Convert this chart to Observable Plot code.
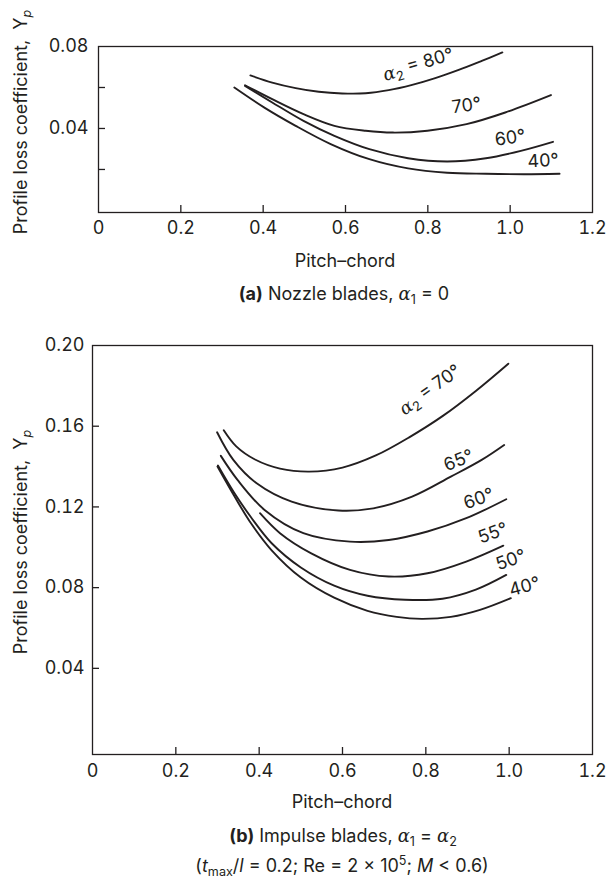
<!DOCTYPE html>
<html>
<head>
<meta charset="utf-8">
<script src="https://cdn.jsdelivr.net/npm/d3@7"></script>
<script src="https://cdn.jsdelivr.net/npm/@observablehq/plot@0.6"></script>
<style>
  body { margin: 0; background: #fff; }
  #wrap { width: 609px; height: 882px; background: #fff; }
  #wrap svg { display: block; }
</style>
</head>
<body>
<div id="wrap"></div>
<script>
// ---------- shared axis values ----------
const pitchTickLabels = [0, 0.2, 0.4, 0.6, 0.8, 1.0, 1.2];
const pitchInnerTicks = [0.2, 0.4, 0.6, 0.8, 1.0];

// ---------- (a) Nozzle blades ----------
const nozzleYLabels = [0.04, 0.08];
const nozzleYTicks = [0.02, 0.04, 0.06];
const nozzleSeries = ["80°", "70°", "60°", "40°"];
const nozzle80 = [[0.369,0.0659],[0.422,0.0624],[0.479,0.0597],[0.535,0.0579],[0.592,0.0571],[0.649,0.0572],[0.705,0.0587],[0.762,0.0613],[0.818,0.0646],[0.875,0.0686],[0.931,0.0730],[0.981,0.0771]];
const nozzle70 = [[0.356,0.0611],[0.422,0.0543],[0.498,0.0470],[0.573,0.0413],[0.649,0.0389],[0.715,0.0380],[0.799,0.0389],[0.894,0.0421],[0.988,0.0478],[1.099,0.0563]];
const nozzle60 = [[0.356,0.0608],[0.422,0.0527],[0.498,0.0437],[0.573,0.0364],[0.658,0.0299],[0.752,0.0255],[0.847,0.0239],[0.941,0.0255],[1.026,0.0291],[1.104,0.0335]];
const nozzle40 = [[0.330,0.0600],[0.403,0.0502],[0.479,0.0413],[0.564,0.0324],[0.658,0.0250],[0.752,0.0205],[0.847,0.0184],[0.941,0.0179],[1.035,0.0177],[1.120,0.0179]];
const nozzleLabelText = ["α2 = 80°", "70°", "60°", "40°"];
const nozzleLabelX = [0.777, 0.894, 1.0, 1.08];
const nozzleLabelY = [0.0708, 0.0512, 0.0354, 0.0242];
const nozzleLabelAngle = [-16, -8, -8, -3];

// ---------- (b) Impulse blades ----------
const impulseYLabels = [0.04, 0.08, 0.12, 0.16, 0.20];
const impulseYTicks = [0.04, 0.08, 0.12, 0.16];
const impulseSeries = ["70°", "65°", "60°", "55°", "50°", "40°"];
const impulse70 = [[0.315,0.158],[0.345,0.150],[0.39,0.1435],[0.45,0.1390],[0.52,0.1375],[0.60,0.1395],[0.68,0.1455],[0.76,0.1545],[0.84,0.1650],[0.92,0.1775],[0.998,0.191]];
const impulse65 = [[0.299,0.157],[0.338,0.1433],[0.394,0.1317],[0.478,0.1226],[0.59,0.1182],[0.674,0.1193],[0.767,0.1251],[0.86,0.135],[0.934,0.1433],[0.988,0.1507]];
const impulse60 = [[0.308,0.1453],[0.348,0.1334],[0.413,0.1185],[0.506,0.107],[0.618,0.1028],[0.711,0.1036],[0.804,0.1078],[0.897,0.1144],[0.993,0.1238]];
const impulse55 = [[0.402,0.1169],[0.45,0.107],[0.525,0.097],[0.618,0.0888],[0.711,0.0855],[0.804,0.0871],[0.897,0.0929],[0.986,0.1008]];
const impulse50 = [[0.301,0.1405],[0.34,0.127],[0.38,0.115],[0.43,0.102],[0.5,0.090],[0.58,0.081],[0.66,0.076],[0.75,0.074],[0.84,0.0745],[0.92,0.079],[0.993,0.0863]];
const impulse40 = [[0.300,0.140],[0.34,0.1255],[0.38,0.112],[0.43,0.0985],[0.5,0.085],[0.58,0.075],[0.66,0.0685],[0.73,0.0655],[0.79,0.0645],[0.86,0.0655],[0.93,0.069],[1.004,0.0748]];
const impulseLabelText = ["α2 = 70°", "65°", "60°", "55°", "50°", "40°"];
const impulseLabelX = [0.811, 0.879, 0.927, 0.961, 1.004, 1.037];
const impulseLabelY = [0.1777, 0.143, 0.124, 0.107, 0.0937, 0.0805];
const impulseLabelAngle = [-35, -22, -20, -20, -20, -15];

// ---------- styling ----------
const ink = "#231f20";
const font = "Inter, 'Liberation Sans', sans-serif";
const fs = 18;
const tickLen = 7; // px
const fmtX = d => d === 0 ? "0" : d.toFixed(1);
const fmtY = d => d.toFixed(2);

function toRows(names, arrays) {
  return names.flatMap((name, i) => arrays[i].map(([x, y]) => ({series: name, x, y})));
}
function toLabels(text, xs, ys, angles) {
  return text.map((t, i) => ({text: t, x: xs[i], y: ys[i], angle: angles[i]}));
}

function panel({width, height, marginLeft, marginTop, marginBottom, yDomain, yLabels, yTicks, rows, labels, yPad, xPad}) {
  const marginRight = 17;
  const xDomain = [0, 1.2];
  const frameW = width - marginLeft - marginRight;
  const frameH = height - marginTop - marginBottom;
  const yb = yDomain[0];
  const yTickLen = tickLen * (yDomain[1] - yDomain[0]) / frameH;
  const xTickLen = tickLen * (xDomain[1] - xDomain[0]) / frameW;
  return Plot.plot({
    width, height, marginLeft, marginRight, marginTop, marginBottom,
    style: {fontFamily: font, fontSize: fs + "px", color: ink, background: "#fff", overflow: "visible"},
    x: {domain: xDomain},
    y: {domain: yDomain},
    marks: [
      Plot.frame({stroke: ink, strokeWidth: 1.3}),
      Plot.ruleX(pitchInnerTicks, {x: d => d, y1: yb, y2: yb + yTickLen, stroke: ink, strokeWidth: 1.3}),
      Plot.ruleY(yTicks, {y: d => d, x1: xDomain[0], x2: xDomain[0] + xTickLen, stroke: ink, strokeWidth: 1.3}),
      Plot.axisX(pitchTickLabels, {tickSize: 0, tickPadding: xPad, tickFormat: fmtX, label: null, fill: ink}),
      Plot.axisY(yLabels, {tickSize: 0, tickPadding: yPad, tickFormat: fmtY, label: null, fill: ink}),
      Plot.line(rows, {x: "x", y: "y", z: "series", curve: "catmull-rom", stroke: ink, strokeWidth: 1.9}),
      Plot.text(labels, {x: "x", y: "y", text: "text", rotate: "angle", fontSize: fs, fill: ink})
    ]
  });
}

function styleAlpha(svg) {
  d3.select(svg).selectAll("text").filter(function () {
    return this.textContent.startsWith("α2");
  }).each(function () {
    const rest = this.textContent.slice(2);
    const el = d3.select(this);
    el.text(null);
    el.append("tspan").attr("font-family", "'DejaVu Serif', serif").attr("font-style", "italic").text("α");
    el.append("tspan").attr("font-size", "13px").attr("dy", "0.3em").text("2");
    el.append("tspan").attr("dy", "-0.3em").text(rest);
  });
}

// rich text helper: parts = [{t, b, i, sub, sup, serif}]
function addRich(svg, x, y, parts, size, rotate) {
  const t = d3.select(svg).append("text")
    .attr("text-anchor", "middle")
    .attr("font-family", font)
    .attr("font-size", size)
    .attr("fill", ink);
  if (rotate) t.attr("transform", `translate(${x},${y}) rotate(${rotate})`);
  else t.attr("x", x).attr("y", y);
  let shift = 0;
  parts.forEach(p => {
    const ts = t.append("tspan").text(p.t);
    if (p.b) ts.attr("font-weight", "bold");
    if (p.i) ts.attr("font-style", "italic");
    if (p.serif) ts.attr("font-family", "'DejaVu Serif', serif");
    let target = 0;
    if (p.sub) { ts.attr("font-size", size * 0.7); target = 4; }
    if (p.sup) { ts.attr("font-size", size * 0.7); target = -7; }
    if (target !== shift) { ts.attr("dy", target - shift); shift = target; }
  });
}

const wrap = document.getElementById("wrap");

// Panel (a)
const svgA = panel({
  width: 609, height: 312, marginLeft: 98, marginTop: 46, marginBottom: 100,
  yDomain: [-0.001, 0.08], yLabels: nozzleYLabels, yTicks: nozzleYTicks,
  rows: toRows(nozzleSeries, [nozzle80, nozzle70, nozzle60, nozzle40]),
  labels: toLabels(nozzleLabelText, nozzleLabelX, nozzleLabelY, nozzleLabelAngle),
  yPad: 10, xPad: 9
});
styleAlpha(svgA);
addRich(svgA, 345, 267, [{t: "Pitch–chord"}], fs);
addRich(svgA, 344, 300, [{t: "(a)", b: true}, {t: " Nozzle blades, "}, {t: "α", i: true, serif: true}, {t: "1", sub: true}, {t: " = 0"}], fs);
addRich(svgA, 27, 122, [{t: "Profile loss coefficient,  Y"}, {t: "p", i: true, sub: true}], fs, -90);
wrap.appendChild(svgA);

// Panel (b)
const svgB = panel({
  width: 609, height: 570, marginLeft: 92, marginTop: 33, marginBottom: 128,
  yDomain: [-0.0027, 0.2], yLabels: impulseYLabels, yTicks: impulseYTicks,
  rows: toRows(impulseSeries, [impulse70, impulse65, impulse60, impulse55, impulse50, impulse40]),
  labels: toLabels(impulseLabelText, impulseLabelX, impulseLabelY, impulseLabelAngle),
  yPad: 8, xPad: 10
});
styleAlpha(svgB);
addRich(svgB, 342, 496, [{t: "Pitch–chord"}], fs);
addRich(svgB, 343, 530, [{t: "(b)", b: true}, {t: " Impulse blades, "}, {t: "α", i: true, serif: true}, {t: "1", sub: true}, {t: " = "}, {t: "α", i: true, serif: true}, {t: "2", sub: true}], fs);
addRich(svgB, 342, 560, [{t: "("}, {t: "t", i: true}, {t: "max", sub: true}, {t: "/"}, {t: "l", i: true}, {t: " = 0.2; Re = 2 × 10"}, {t: "5", sup: true}, {t: "; "}, {t: "M", i: true}, {t: " < 0.6)"}], fs);
addRich(svgB, 27, 230, [{t: "Profile loss coefficient,  Y"}, {t: "p", i: true, sub: true}], fs, -90);
wrap.appendChild(svgB);
</script>
</body>
</html>
